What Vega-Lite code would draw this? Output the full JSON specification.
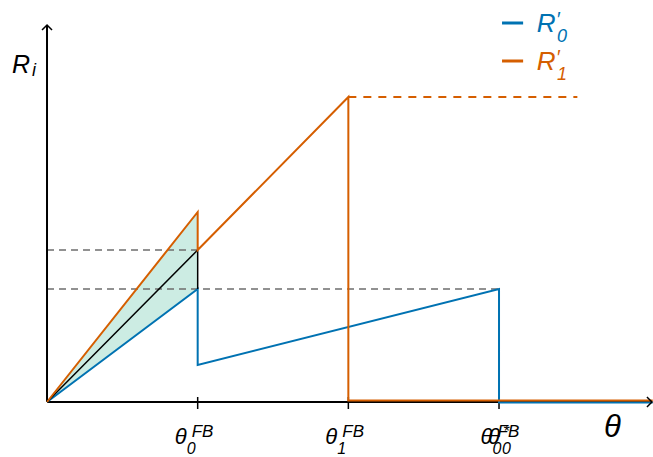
{
  "$schema": "https://vega.github.io/schema/vega-lite/v6.json",
  "width": 653,
  "height": 457,
  "autosize": {"type": "none"},
  "padding": 0,
  "config": {"view": {"stroke": null}, "text": {"font": "Liberation Sans", "fontStyle": "italic", "color": "black"}},
  "data": {"values": [{}]},
  "datasets": {
    "fill": [{"x": 0, "lo": 0, "hi": 0}, {"x": 1, "lo": 1.13, "hi": 1.90}],
    "guides": [{"x": 0, "x2": 1, "y": 1.52}, {"x": 0, "x2": 3, "y": 1.13}],
    "axes": [{"x": 0, "x2": 4.012, "y": 0, "y2": 0}, {"x": 0, "x2": 0, "y": 0, "y2": 3.77}],
    "ticks": [{"x": 1}, {"x": 2}, {"x": 3}],
    "blue": [{"o": 1, "x": 0, "y": 0}, {"o": 2, "x": 1, "y": 1.13}, {"o": 3, "x": 1, "y": 0.37}, {"o": 4, "x": 3, "y": 1.13}, {"o": 5, "x": 3, "y": -0.004}, {"o": 6, "x": 4.02, "y": -0.004}],
    "orange": [{"o": 1, "x": 0, "y": 0}, {"o": 2, "x": 1, "y": 1.90}, {"o": 3, "x": 1, "y": 1.52}, {"o": 4, "x": 2, "y": 3.05}, {"o": 5, "x": 2, "y": 0.016}, {"o": 6, "x": 4.02, "y": 0.016}],
    "black": [{"o": 1, "x": 0, "y": 0}, {"o": 2, "x": 1, "y": 1.52}, {"o": 3, "x": 1, "y": 1.13}],
    "odash": [{"x": 2, "x2": 3.52, "y": 3.05}],
    "ticklabels": [{"x": 1, "sub": "0", "sup": "FB"}, {"x": 2, "sub": "1", "sup": "FB"}, {"x": 3.03, "sub": "0", "sup": "FB"}],
    "legend": [{"s": "R0", "y": 3.79, "sub": "0"}, {"s": "R1", "y": 3.41, "sub": "1"}]
  },
  "layer": [
    {
      "data": {"name": "fill"},
      "mark": {"type": "area", "color": "#009E73", "opacity": 0.2},
      "encoding": {
        "x": {"field": "x", "type": "quantitative", "scale": {"domain": [-0.312, 4.022], "nice": false, "zero": false}, "axis": null},
        "y": {"field": "hi", "type": "quantitative", "scale": {"domain": [-0.55, 4.02], "nice": false, "zero": false}, "axis": null},
        "y2": {"field": "lo"}
      }
    },
    {
      "data": {"name": "guides"},
      "mark": {"type": "rule", "color": "#6e6e6e", "strokeWidth": 1.5, "strokeDash": [7, 5]},
      "encoding": {
        "x": {"field": "x", "type": "quantitative", "scale": {"domain": [-0.312, 4.022], "nice": false, "zero": false}, "axis": null},
        "x2": {"field": "x2"},
        "y": {"field": "y", "type": "quantitative", "scale": {"domain": [-0.55, 4.02], "nice": false, "zero": false}, "axis": null}
      }
    },
    {
      "data": {"name": "axes"},
      "mark": {"type": "rule", "color": "black", "strokeWidth": 2},
      "encoding": {
        "x": {"field": "x", "type": "quantitative", "scale": {"domain": [-0.312, 4.022], "nice": false, "zero": false}, "axis": null},
        "x2": {"field": "x2"},
        "y": {"field": "y", "type": "quantitative", "scale": {"domain": [-0.55, 4.02], "nice": false, "zero": false}, "axis": null},
        "y2": {"field": "y2"}
      }
    },
    {
      "data": {"name": "ticks"},
      "mark": {"type": "rule", "color": "black", "strokeWidth": 1.5},
      "encoding": {
        "x": {"field": "x", "type": "quantitative", "scale": {"domain": [-0.312, 4.022], "nice": false, "zero": false}, "axis": null},
        "y": {"datum": -0.07, "type": "quantitative", "scale": {"domain": [-0.55, 4.02], "nice": false, "zero": false}, "axis": null},
        "y2": {"datum": 0.05}
      }
    },
    {
      "data": {"name": "blue"},
      "mark": {"type": "line", "color": "#0072B2", "strokeWidth": 2},
      "encoding": {
        "x": {"field": "x", "type": "quantitative", "scale": {"domain": [-0.312, 4.022], "nice": false, "zero": false}, "axis": null},
        "y": {"field": "y", "type": "quantitative", "scale": {"domain": [-0.55, 4.02], "nice": false, "zero": false}, "axis": null},
        "order": {"field": "o", "type": "quantitative"}
      }
    },
    {
      "data": {"name": "black"},
      "mark": {"type": "line", "color": "black", "strokeWidth": 1.5},
      "encoding": {
        "x": {"field": "x", "type": "quantitative", "scale": {"domain": [-0.312, 4.022], "nice": false, "zero": false}, "axis": null},
        "y": {"field": "y", "type": "quantitative", "scale": {"domain": [-0.55, 4.02], "nice": false, "zero": false}, "axis": null},
        "order": {"field": "o", "type": "quantitative"}
      }
    },
    {
      "data": {"name": "orange"},
      "mark": {"type": "line", "color": "#D55E00", "strokeWidth": 2},
      "encoding": {
        "x": {"field": "x", "type": "quantitative", "scale": {"domain": [-0.312, 4.022], "nice": false, "zero": false}, "axis": null},
        "y": {"field": "y", "type": "quantitative", "scale": {"domain": [-0.55, 4.02], "nice": false, "zero": false}, "axis": null},
        "order": {"field": "o", "type": "quantitative"}
      }
    },
    {
      "data": {"name": "odash"},
      "mark": {"type": "rule", "color": "#D55E00", "strokeWidth": 2, "strokeDash": [8, 7]},
      "encoding": {
        "x": {"field": "x", "type": "quantitative", "scale": {"domain": [-0.312, 4.022], "nice": false, "zero": false}, "axis": null},
        "x2": {"field": "x2"},
        "y": {"field": "y", "type": "quantitative", "scale": {"domain": [-0.55, 4.02], "nice": false, "zero": false}, "axis": null}
      }
    },
    {
      "mark": {"type": "point", "shape": "M-1,-1L0,0L-1,1", "size": 100, "filled": false, "color": "black", "strokeWidth": 1.5, "opacity": 1},
      "encoding": {
        "x": {"datum": 4.015, "type": "quantitative", "scale": {"domain": [-0.312, 4.022], "nice": false, "zero": false}, "axis": null},
        "y": {"datum": 0, "type": "quantitative", "scale": {"domain": [-0.55, 4.02], "nice": false, "zero": false}, "axis": null}
      }
    },
    {
      "mark": {"type": "point", "shape": "M-1,1L0,0L1,1", "size": 100, "filled": false, "color": "black", "strokeWidth": 1.5, "opacity": 1},
      "encoding": {
        "x": {"datum": 0, "type": "quantitative", "scale": {"domain": [-0.312, 4.022], "nice": false, "zero": false}, "axis": null},
        "y": {"datum": 3.77, "type": "quantitative", "scale": {"domain": [-0.55, 4.02], "nice": false, "zero": false}, "axis": null}
      }
    },
    {
      "data": {"name": "ticklabels"},
      "mark": {"type": "text", "text": "θ", "align": "left", "baseline": "alphabetic", "dx": -23, "dy": 42, "fontSize": 22},
      "encoding": {
        "x": {"field": "x", "type": "quantitative", "scale": {"domain": [-0.312, 4.022], "nice": false, "zero": false}, "axis": null},
        "y": {"datum": 0, "type": "quantitative", "scale": {"domain": [-0.55, 4.02], "nice": false, "zero": false}, "axis": null}
      }
    },
    {
      "data": {"name": "ticklabels"},
      "mark": {"type": "text", "align": "left", "baseline": "alphabetic", "dx": -11, "dy": 52, "fontSize": 16},
      "encoding": {
        "x": {"field": "x", "type": "quantitative", "scale": {"domain": [-0.312, 4.022], "nice": false, "zero": false}, "axis": null},
        "y": {"datum": 0, "type": "quantitative", "scale": {"domain": [-0.55, 4.02], "nice": false, "zero": false}, "axis": null},
        "text": {"field": "sub"}
      }
    },
    {
      "data": {"name": "ticklabels"},
      "mark": {"type": "text", "align": "left", "baseline": "alphabetic", "dx": -6, "dy": 35, "fontSize": 17},
      "encoding": {
        "x": {"field": "x", "type": "quantitative", "scale": {"domain": [-0.312, 4.022], "nice": false, "zero": false}, "axis": null},
        "y": {"datum": 0, "type": "quantitative", "scale": {"domain": [-0.55, 4.02], "nice": false, "zero": false}, "axis": null},
        "text": {"field": "sup"}
      }
    },
    {
      "mark": {"type": "text", "text": "θ", "align": "left", "baseline": "alphabetic", "dx": -11, "dy": 42, "fontSize": 22},
      "encoding": {
        "x": {"datum": 3, "type": "quantitative", "scale": {"domain": [-0.312, 4.022], "nice": false, "zero": false}, "axis": null},
        "y": {"datum": 0, "type": "quantitative", "scale": {"domain": [-0.55, 4.02], "nice": false, "zero": false}, "axis": null}
      }
    },
    {
      "mark": {"type": "text", "text": "0", "align": "left", "baseline": "alphabetic", "dx": 3, "dy": 52, "fontSize": 16},
      "encoding": {
        "x": {"datum": 3, "type": "quantitative", "scale": {"domain": [-0.312, 4.022], "nice": false, "zero": false}, "axis": null},
        "y": {"datum": 0, "type": "quantitative", "scale": {"domain": [-0.55, 4.02], "nice": false, "zero": false}, "axis": null}
      }
    },
    {
      "mark": {"type": "text", "text": "*", "align": "left", "baseline": "alphabetic", "dx": 4, "dy": 35, "fontSize": 16},
      "encoding": {
        "x": {"datum": 3, "type": "quantitative", "scale": {"domain": [-0.312, 4.022], "nice": false, "zero": false}, "axis": null},
        "y": {"datum": 0, "type": "quantitative", "scale": {"domain": [-0.55, 4.02], "nice": false, "zero": false}, "axis": null}
      }
    },
    {
      "mark": {"type": "text", "text": "θ", "align": "center", "baseline": "alphabetic", "dy": 35, "fontSize": 31},
      "encoding": {
        "x": {"datum": 3.753, "type": "quantitative", "scale": {"domain": [-0.312, 4.022], "nice": false, "zero": false}, "axis": null},
        "y": {"datum": 0, "type": "quantitative", "scale": {"domain": [-0.55, 4.02], "nice": false, "zero": false}, "axis": null}
      }
    },
    {
      "mark": {"type": "text", "text": "R", "align": "center", "baseline": "alphabetic", "fontSize": 25},
      "encoding": {
        "x": {"datum": -0.173, "type": "quantitative", "scale": {"domain": [-0.312, 4.022], "nice": false, "zero": false}, "axis": null},
        "y": {"datum": 3.29, "type": "quantitative", "scale": {"domain": [-0.55, 4.02], "nice": false, "zero": false}, "axis": null}
      }
    },
    {
      "mark": {"type": "text", "text": "i", "align": "left", "baseline": "alphabetic", "dx": 11, "dy": 3, "fontSize": 18},
      "encoding": {
        "x": {"datum": -0.173, "type": "quantitative", "scale": {"domain": [-0.312, 4.022], "nice": false, "zero": false}, "axis": null},
        "y": {"datum": 3.29, "type": "quantitative", "scale": {"domain": [-0.55, 4.02], "nice": false, "zero": false}, "axis": null}
      }
    },
    {
      "data": {"name": "legend"},
      "mark": {"type": "rule", "strokeWidth": 3},
      "encoding": {
        "x": {"datum": 3.02, "type": "quantitative", "scale": {"domain": [-0.312, 4.022], "nice": false, "zero": false}, "axis": null},
        "x2": {"datum": 3.16},
        "y": {"field": "y", "type": "quantitative", "scale": {"domain": [-0.55, 4.02], "nice": false, "zero": false}, "axis": null},
        "color": {"field": "s", "type": "nominal", "scale": {"domain": ["R0", "R1"], "range": ["#0072B2", "#D55E00"]}, "legend": null}
      }
    },
    {
      "data": {"name": "legend"},
      "mark": {"type": "text", "text": "R", "align": "center", "baseline": "alphabetic", "dy": 9, "fontSize": 26},
      "encoding": {
        "x": {"datum": 3.312, "type": "quantitative", "scale": {"domain": [-0.312, 4.022], "nice": false, "zero": false}, "axis": null},
        "y": {"field": "y", "type": "quantitative", "scale": {"domain": [-0.55, 4.02], "nice": false, "zero": false}, "axis": null},
        "color": {"field": "s", "type": "nominal", "scale": {"domain": ["R0", "R1"], "range": ["#0072B2", "#D55E00"]}, "legend": null}
      }
    },
    {
      "data": {"name": "legend"},
      "mark": {"type": "text", "text": "′", "align": "left", "baseline": "alphabetic", "dx": 10, "dy": 3, "fontSize": 20},
      "encoding": {
        "x": {"datum": 3.312, "type": "quantitative", "scale": {"domain": [-0.312, 4.022], "nice": false, "zero": false}, "axis": null},
        "y": {"field": "y", "type": "quantitative", "scale": {"domain": [-0.55, 4.02], "nice": false, "zero": false}, "axis": null},
        "color": {"field": "s", "type": "nominal", "scale": {"domain": ["R0", "R1"], "range": ["#0072B2", "#D55E00"]}, "legend": null}
      }
    },
    {
      "data": {"name": "legend"},
      "mark": {"type": "text", "align": "left", "baseline": "alphabetic", "dx": 11, "dy": 19, "fontSize": 18},
      "encoding": {
        "x": {"datum": 3.312, "type": "quantitative", "scale": {"domain": [-0.312, 4.022], "nice": false, "zero": false}, "axis": null},
        "y": {"field": "y", "type": "quantitative", "scale": {"domain": [-0.55, 4.02], "nice": false, "zero": false}, "axis": null},
        "color": {"field": "s", "type": "nominal", "scale": {"domain": ["R0", "R1"], "range": ["#0072B2", "#D55E00"]}, "legend": null},
        "text": {"field": "sub"}
      }
    }
  ]
}
